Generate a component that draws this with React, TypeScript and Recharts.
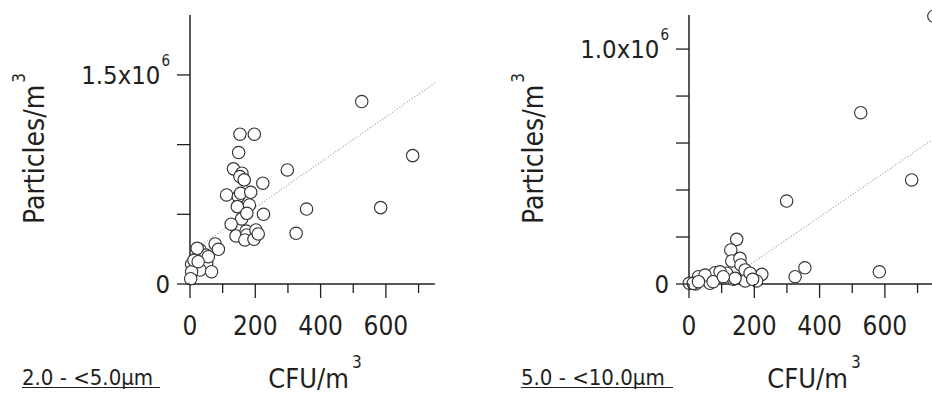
// Two scatter panels: particle counts vs CFU for two particle size bands.
// Each panel is a fixed-size ScatterChart; ticks are drawn by hand so the
// minor/major tick lengths and the x10^6 superscripts match the print.
import React from 'react';
import { ScatterChart, Scatter, XAxis, YAxis, ReferenceLine } from 'recharts';

const FONT = "'DejaVu Sans Condensed', 'DejaVu Sans', sans-serif";
const INK = '#231f20';

// --- 2.0 - <5.0 um panel (particles in units of 10^6) ---
const cfuSmall = [
  526, 682, 584, 357, 325, 298, 153, 197, 149, 133, 159, 153, 166, 223, 112,
  148, 155, 186, 182, 145, 225, 158, 126, 174, 141, 172, 174, 168, 196, 202,
  209, 77, 87, 28, 31, 49, 51, 5, 20, 31, 5, 66, 2, 22, 12, 56, 25,
];
const particlesSmall = [
  1.309, 0.921, 0.548, 0.538, 0.364, 0.818, 1.075, 1.075, 0.943, 0.826, 0.795, 0.771, 0.747, 0.723, 0.639,
  0.627, 0.651, 0.658, 0.567, 0.555, 0.5, 0.467, 0.429, 0.507, 0.345, 0.38, 0.352, 0.316, 0.321, 0.388,
  0.359, 0.287, 0.249, 0.225, 0.244, 0.208, 0.149, 0.141, 0.131, 0.1, 0.088, 0.088, 0.038, 0.256, 0.17, 0.196, 0.16,
];
const fitSmall = [{ x: 0, y: 0.224 }, { x: 750, y: 1.443 }];
const yTicksSmall = [0, 0.5, 1.0, 1.5];
const yLabelledSmall = [0, 1.5];

// --- 5.0 - <10.0 um panel ---
const cfuLarge = [
  750, 526, 682, 299, 583, 355, 325, 146, 128, 131, 156, 159, 172, 223, 207,
  172, 136, 115, 80, 64, 29, 20, 1, 13, 49, 95, 187, 195, 141, 74, 105, 29,
];
const particlesLarge = [
  1.14, 0.729, 0.443, 0.353, 0.052, 0.069, 0.031, 0.19, 0.145, 0.098, 0.109, 0.081, 0.06, 0.041, 0.013,
  0.013, 0.02, 0.046, 0.048, 0.003, 0.031, 0.0, 0.003, 0.003, 0.038, 0.052, 0.046, 0.02, 0.024, 0.01, 0.031, 0.01,
];
const fitLarge = [{ x: 100, y: 0 }, { x: 750, y: 0.6185 }];
const yTicksLarge = [0, 0.2, 0.4, 0.6, 0.8, 1.0];
const yLabelledLarge = [0, 1.0];

const cfuTicks = [0, 100, 200, 300, 400, 500, 600, 700];

const PX_PER_CFU = 65.3 / 200; // same x scale in both panels
const PLOT_TOP = 15;
const PLOT_H = 269;
const H = 394;

const XTick = (props: any) => {
  const { x, y, payload } = props;
  const major = payload.value % 200 === 0;
  return (
    <g>
      <line x1={x} y1={y} x2={x} y2={y + (major ? 14 : 9)} stroke={INK} strokeWidth={1.3} />
      {major && (
        <text x={x} y={y + 51} textAnchor="middle" fontSize={26} fill={INK} fontFamily={FONT}>
          {payload.value}
        </text>
      )}
    </g>
  );
};

const makeYTick = (labelled: number[]) => (props: any) => {
  const { x, y, payload } = props;
  const v = payload.value;
  return (
    <g>
      <line x1={x - 13} y1={y} x2={x} y2={y} stroke={INK} strokeWidth={1.3} />
      {labelled.includes(v) && (
        <text x={x - 20} y={y + 9} textAnchor="end" fontSize={25.5} fill={INK} fontFamily={FONT}>
          {v === 0 ? '0' : (
            <>
              <tspan>{v.toFixed(1)}x10</tspan>
              <tspan dx={1} dy={-18} fontSize={15}>6</tspan>
            </>
          )}
        </text>
      )}
    </g>
  );
};

interface PanelProps {
  left: number; width: number; plotLeft: number; xMax: number; yMax: number;
  xs: number[]; ys: number[]; fit: { x: number; y: number }[];
  yTicks: number[]; yLabelled: number[]; band: string;
}

const Panel: React.FC<PanelProps> = ({ left, width, plotLeft, xMax, yMax, xs, ys, fit, yTicks, yLabelled, band }) => {
  const data = xs.map((x, i) => ({ x, y: ys[i] }));
  const plotW = xMax * PX_PER_CFU;
  const yTitleX = plotLeft - 146;
  const yTitleY = PLOT_TOP + PLOT_H / 2 - 1;
  // axes are 1px thick boxes, so margins leave room for them
  return (
    <div style={{ position: 'absolute', left, top: 0, width, height: H }}>
      <ScatterChart
        width={width}
        height={H}
        margin={{ top: PLOT_TOP, left: plotLeft - 1, right: width - plotLeft - plotW, bottom: H - PLOT_TOP - PLOT_H - 1 }}
      >
        <XAxis
          type="number" dataKey="x" domain={[0, xMax]} ticks={cfuTicks} interval={0}
          height={1} tickSize={0} tickMargin={0} tickLine={false} tick={XTick}
          axisLine={{ stroke: INK, strokeWidth: 1.5 }}
        />
        <YAxis
          type="number" dataKey="y" domain={[0, yMax]} ticks={yTicks} interval={0}
          width={1} tickSize={0} tickMargin={0} tickLine={false} tick={makeYTick(yLabelled)}
          axisLine={{ stroke: INK, strokeWidth: 1.5 }}
        />
        <ReferenceLine segment={fit} stroke="#a0a0a0" strokeWidth={1.2} strokeDasharray="1 2" ifOverflow="visible" />
        <Scatter
          data={data}
          isAnimationActive={false}
          shape={(p: any) => <circle cx={p.cx} cy={p.cy} r={6.2} fill="#fff" stroke="#333" strokeWidth={1.15} />}
        />
      </ScatterChart>
      {/* axis titles + size band caption */}
      <svg width={width} height={H} style={{ position: 'absolute', left: 0, top: 0, pointerEvents: 'none' }}
        fontFamily={FONT} fill={INK}>
        <text x={yTitleX} y={yTitleY} transform={`rotate(-90, ${yTitleX}, ${yTitleY})`} textAnchor="middle" fontSize={28}>
          Particles/m<tspan dx={2} dy={-19} fontSize={17}>3</tspan>
        </text>
        <text x={plotLeft + 125} y={387.5} textAnchor="middle" fontSize={27}>
          CFU/m<tspan dx={3} dy={-20} fontSize={17}>3</tspan>
        </text>
        <text x={plotLeft - 168} y={385} fontSize={22}>{band}</text>
        <line x1={plotLeft - 168} x2={plotLeft - 168 + (band.length > 12 ? 152 : 138)} y1={387.5} y2={387.5}
          stroke={INK} strokeWidth={1.2} />
      </svg>
    </div>
  );
};

export default function App() {
  return (
    <div style={{ position: 'absolute', left: 0, top: 0, width: 932, height: H, overflow: 'hidden', background: '#fff' }}>
      <Panel
        left={0} width={460} plotLeft={190} xMax={750} yMax={1.93}
        xs={cfuSmall} ys={particlesSmall} fit={fitSmall}
        yTicks={yTicksSmall} yLabelled={yLabelledSmall} band={'2.0 - <5.0\u00b5m'}
      />
      <Panel
        left={480} width={500} plotLeft={209} xMax={800} yMax={1.145}
        xs={cfuLarge} ys={particlesLarge} fit={fitLarge}
        yTicks={yTicksLarge} yLabelled={yLabelledLarge} band={'5.0 - <10.0\u00b5m'}
      />
    </div>
  );
}
